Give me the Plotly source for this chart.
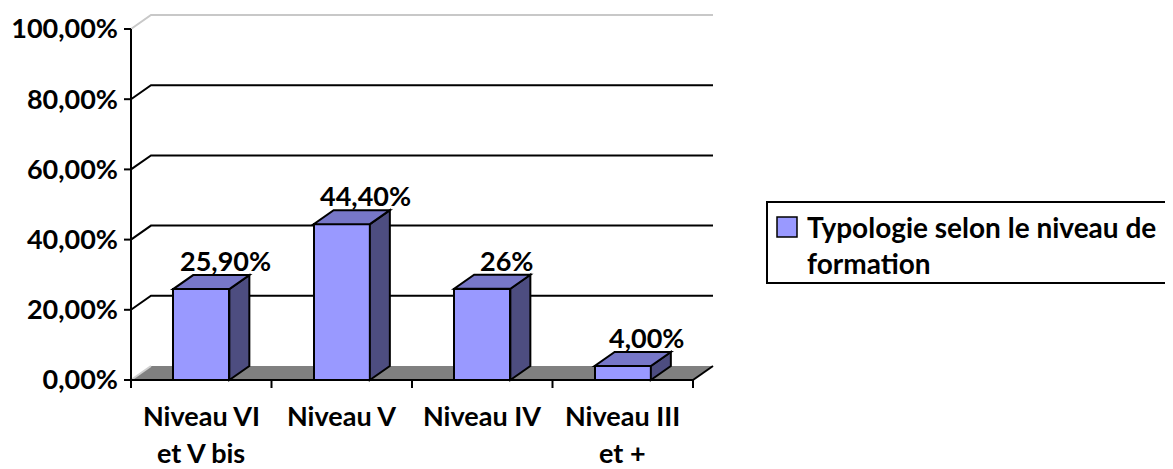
import plotly.graph_objects as go

# ---------------- data ----------------
categories_line1 = ["Niveau VI", "Niveau V", "Niveau IV", "Niveau III"]
categories_line2 = ["et V bis", "", "", "et +"]
values = [25.9, 44.4, 26.0, 4.0]
value_labels = ["25,90%", "44,40%", "26%", "4,00%"]
y_ticks = [0, 20, 40, 60, 80, 100]
y_tick_labels = ["0,00%", "20,00%", "40,00%", "60,00%", "80,00%", "100,00%"]
series_name_lines = ["Typologie selon le niveau de", "formation"]

# ---------------- layout geometry (pixels, page coordinates) ----------------
OFF = 8                    # default page margin of the html body
W, H = 1173, 469
FL, FR = 131, 693          # front frame left / right
F0, F100 = 380, 29         # pixel of 0% and 100%
PL, PR, PT, PB = 121, 720, 10, 392   # plot area
DX, DY = 20, 14            # 3D depth offset
BAR_W = 0.4

n = len(values)
ux = (FR - FL) / n
uy = (F0 - F100) / 100.0
xr = [-0.5 - (FL - PL) / ux, -0.5 + (PR - FL) / ux]
yr = [-(PB - F0) / uy, (F0 - PT) / uy]
ddx, ddy = DX / ux, DY / uy
x0, x1 = -0.5, n - 0.5
ymax = y_ticks[-1]

FONT = "Lato"
BLACK = "#000000"
FRONT = "#9999FF"
TOP = "#7777C8"
SIDE = "#4D4D80"
FLOOR = "#808080"

def pxx(p):
    return (p - PL) / (PR - PL)

def pxy(p):
    return 1 - (p - PT) / (PB - PT)

def bold(size):
    return dict(family=FONT, size=size, color=BLACK, weight="bold")

def line(xa, ya, xb, yb, color=BLACK, width=2, layer="below"):
    return dict(type="line", xref="x", yref="y", x0=xa, y0=ya, x1=xb, y1=yb,
                line=dict(color=color, width=width), layer=layer)

def path(pts, fill=None, color=BLACK, width=2, layer="below", closed=True):
    d = "M " + " L ".join(f"{a},{b}" for a, b in pts) + (" Z" if closed else "")
    s = dict(type="path", xref="x", yref="y", path=d,
             line=dict(color=color, width=width), layer=layer)
    if fill:
        s["fillcolor"] = fill
    return s

shapes = []
# floor
shapes.append(path([(x0, 0), (x1, 0), (x1 + ddx, ddy), (x0 + ddx, ddy)], fill=FLOOR, width=0))
shapes.append(line(x0, 0, x0 + ddx, ddy, color="#D0D0D0", width=2))
# back wall gridlines
for t in y_ticks[1:]:
    col = "#C8C8C8" if t == ymax else BLACK
    shapes.append(path([(x0, t), (x0 + ddx, t + ddy), (x1 + ddx, t + ddy)],
                       color=col, width=2, closed=False))
# floor right edge
shapes.append(line(x1, 0, x1 + ddx, ddy, layer="above"))
# x axis line & ticks
shapes.append(line(x0, 0, x1, 0, layer="above"))
for k in range(n + 1):
    b = x0 + k
    shapes.append(line(b, 0, b, -8 / uy, layer="above"))
# y axis line & ticks
shapes.append(line(x0, -8 / uy, x0, ymax, layer="above"))
for t in y_ticks:
    shapes.append(line(x0 - 7 / ux, t, x0, t, layer="above"))

# 3D bar faces
for i, v in enumerate(values):
    l, r = i - BAR_W / 2, i + BAR_W / 2
    shapes.append(path([(r, 0), (r + ddx, ddy), (r + ddx, v + ddy), (r, v)], fill=SIDE, layer="above"))
    shapes.append(path([(l, v), (r, v), (r + ddx, v + ddy), (l + ddx, v + ddy)], fill=TOP, layer="above"))

# legend (manual, box runs off the right edge)
shapes.append(dict(type="rect", xref="paper", yref="paper",
                   x0=pxx(767), x1=pxx(1190), y0=pxy(283), y1=pxy(202),
                   line=dict(color=BLACK, width=2), fillcolor="white"))
shapes.append(dict(type="rect", xref="paper", yref="paper",
                   x0=pxx(777), x1=pxx(797), y0=pxy(237), y1=pxy(217),
                   line=dict(color=BLACK, width=1.5), fillcolor=FRONT))

annotations = []
for i, (v, lab) in enumerate(zip(values, value_labels)):
    annotations.append(dict(x=i + ddx / 2, y=v + ddy, xref="x", yref="y", text=lab,
                            showarrow=False, xanchor="center", yanchor="bottom",
                            xshift=14, yshift=-4, font=bold(27)))
for i, (a, b) in enumerate(zip(categories_line1, categories_line2)):
    for txt, ypx in ((a, 415), (b, 452)):
        if txt:
            annotations.append(dict(x=i, y=pxy(ypx), xref="x", yref="paper", text=txt,
                                    showarrow=False, xanchor="center", yanchor="middle",
                                    font=bold(27)))
for txt, ypx in zip(series_name_lines, (227, 263)):
    annotations.append(dict(x=pxx(805), y=pxy(ypx), xref="paper", yref="paper", text=txt,
                            showarrow=False, xanchor="left", yanchor="middle",
                            font=bold(28)))

fig = go.Figure()
fig.add_trace(go.Bar(x=list(range(n)), y=values, width=BAR_W,
                     marker=dict(color=FRONT, line=dict(color=BLACK, width=2)),
                     hoverinfo="skip", showlegend=False))

fig.update_layout(
    width=W - OFF, height=H - OFF,
    margin=dict(l=PL - OFF, r=W - PR, t=PT - OFF, b=H - PB, pad=0),
    plot_bgcolor="white", paper_bgcolor="white",
    showlegend=False,
    shapes=shapes, annotations=annotations,
    xaxis=dict(range=xr, visible=False, fixedrange=True),
    yaxis=dict(range=yr, tickvals=y_ticks, ticktext=y_tick_labels, ticks="",
               showgrid=False, zeroline=False, showline=False, fixedrange=True,
               ticklabelstandoff=2, tickfont=bold(27)),
    bargap=0,
)

fig.write_html("out.html")
